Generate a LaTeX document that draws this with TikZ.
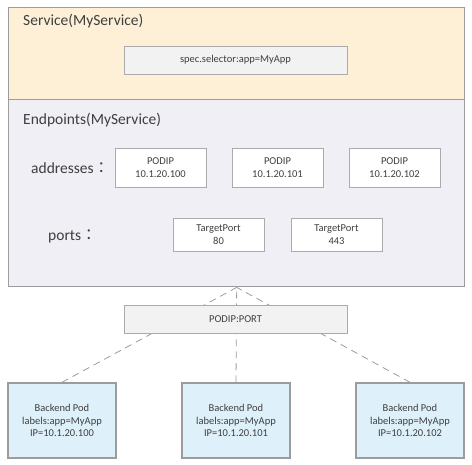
\documentclass[tikz,border=0pt]{standalone}
\usepackage{fontspec}
\setmainfont{Carlito}
\newfontfamily\cjk{Noto Sans CJK TC}
\usetikzlibrary{positioning,backgrounds}

\definecolor{servfill}{HTML}{FDF0D6}
\definecolor{epfill}{HTML}{EFEFF5}
\definecolor{keyfill}{HTML}{F2F2F2}
\definecolor{podfill}{HTML}{DEF1FB}
\definecolor{frameline}{HTML}{9C9C9C}
\definecolor{boxline}{HTML}{ABABAB}
\definecolor{txt}{HTML}{3F3F3F}

\tikzset{
  frame/.style={draw=frameline, line width=1.4pt, inner sep=0pt, anchor=north west},
  smallbox/.style={draw=boxline, line width=0.8pt, fill=white, inner sep=0pt,
    align=center, text=txt, font=\fontsize{10.5}{12.5}\selectfont},
  podbox/.style={draw=frameline, line width=1.4pt, fill=podfill, inner sep=0pt,
    minimum width=108pt, minimum height=75pt, align=center, text=txt,
    font=\fontsize{10.5}{12.5}\selectfont},
  title/.style={anchor=west, text=txt, inner sep=0pt, font=\fontsize{15.5}{18}\selectfont},
  link/.style={draw=frameline, line width=0.8pt, dash pattern=on 7pt off 5pt}
}

\begin{document}
\begin{tikzpicture}[x=1pt,y=-1pt]
      \useasboundingbox (0,0) rectangle (472,464);
      % Service
      \node[frame, fill=servfill, minimum width=456pt, minimum height=92pt] (service) at (8,7) {};
      \node[title] (servtitle) at (23,21) {Service(MyService)};
      \node[smallbox, fill=keyfill, minimum width=223pt, minimum height=28pt] (selector) at (235.5,60) {spec.selector:app=MyApp};

      % Endpoints
      \node[frame, fill=epfill, minimum width=456pt, minimum height=187pt] (endpoints) at (8,99) {};
      \node[title] (eptitle) at (23,120) {Endpoints(MyService)};

      \node[title] (addr) at (31,168) {addresses{\cjk ：}};
      \node[smallbox, minimum width=91pt, minimum height=39pt] (ip0) at (160.5,167.5) {PODIP\\10.1.20.100};
      \node[smallbox, minimum width=91pt, minimum height=39pt] (ip1) at (277.5,167.5) {PODIP\\10.1.20.101};
      \node[smallbox, minimum width=91pt, minimum height=39pt] (ip2) at (394.5,167.5) {PODIP\\10.1.20.102};

      \node[title] (ports) at (48,236) {ports{\cjk ：}};
      \node[smallbox, minimum width=91pt, minimum height=33pt] (tp0) at (218.5,234.5) {TargetPort\\80};
      \node[smallbox, minimum width=91pt, minimum height=33pt] (tp1) at (336.5,234.5) {TargetPort\\443};

      % PODIP:PORT
      \node[smallbox, fill=keyfill, minimum width=223pt, minimum height=28pt] (podport) at (235.5,319) {PODIP:PORT};

      % Backend Pods
      \node[podbox] (pod0) at (62,420.5)  {Backend Pod\\labels:app=MyApp\\IP=10.1.20.100};
      \node[podbox] (pod1) at (236,420.5) {Backend Pod\\labels:app=MyApp\\IP=10.1.20.101};
      \node[podbox] (pod2) at (410,420.5) {Backend Pod\\labels:app=MyApp\\IP=10.1.20.102};

      % Linhas
      \begin{scope}[on background layer]
        \draw[link] (pod0.north) -- (endpoints.south);
        \draw[link] (pod1.north) -- (endpoints.south);
        \draw[link] (pod2.north) -- (endpoints.south);
      \end{scope}
\end{tikzpicture}
\end{document}
